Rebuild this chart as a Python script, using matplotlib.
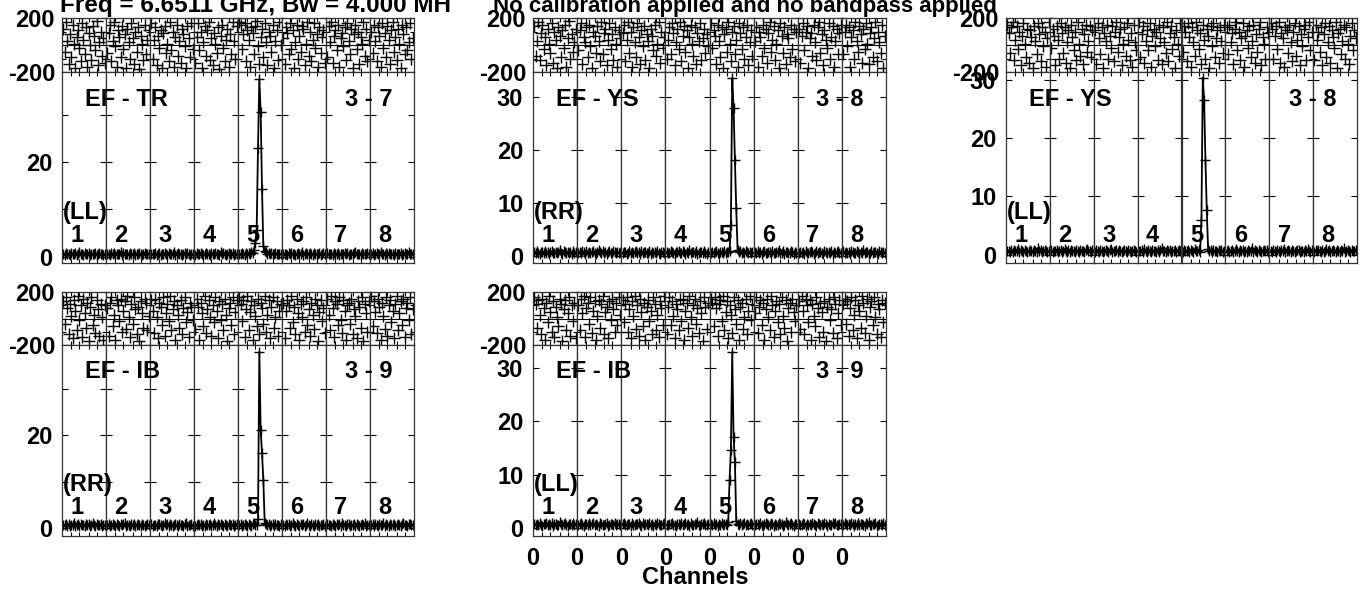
import matplotlib
matplotlib.use("Agg")
import matplotlib.pyplot as plt
import numpy as np
from matplotlib.ticker import FixedLocator, MultipleLocator, FuncFormatter

plt.rcParams['font.family'] = ['Liberation Sans', 'DejaVu Sans']
plt.rcParams['font.weight'] = 'bold'
plt.rcParams['font.size'] = 17
plt.rcParams['axes.unicode_minus'] = False

W, H = 1366, 592
FS = 17

title_left = "Freq = 6.6511 GHz, Bw = 4.000 MH"
title_right = "No calibration applied and no bandpass applied"
baselines = ["EF - TR", "EF - YS", "EF - YS", "EF - IB", "EF - IB"]
antennas = ["3 - 7", "3 - 8", "3 - 8", "3 - 9", "3 - 9"]
pols = ["(LL)", "(RR)", "(LL)", "(RR)", "(LL)"]
if_labels = ["1", "2", "3", "4", "5", "6", "7", "8"]
amp_max = [39.0, 34.7, 31.3, 39.5, 34.3]
amp_min = [-1.3, -1.3, -1.4, -1.7, -1.5]
amp_label_step = [20, 10, 10, 20, 10]

# phase in units of 10 degrees, one row per IF
phase_tr = [
    [12, -5, 17, 3, -14, 8, -9, 15, 1, -17, 6, 11, -2, -12, 16, 4, -7, 13, -16, 9, 0, -11, 14, 7, -4, 18, -15, 2, 10, -8, 5, -13],
    [-6, 9, 15, -12, 3, 17, -1, -16, 11, 6, -9, 14, -3, 8, -17, 12, 2, -10, 16, 5, -14, 10, -5, 13, -18, 7, 1, -11, 15, -7, 4, 11],
    [16, -10, 4, 13, -15, 7, -2, 11, -17, 9, 14, -6, 1, -12, 17, -4, 10, -16, 6, 15, -8, 3, -13, 12, 8, -1, -17, 14, 5, -9, 16, -3],
    [-13, 6, 16, -4, 10, -17, 2, 14, -8, 11, 17, -11, 5, -15, 9, 1, -6, 13, -18, 7, 15, -2, -12, 4, 12, -16, 8, -7, 17, 3, -10, 14],
    [17, 15, -3, 8, 16, -12, 11, 4, -16, 13, 9, -7, 14, 18, -1, -14, 6, 12, -9, 16, 2, -15, 10, 7, -5, 15, -17, 3, 11, -11, 17, 0],
    [5, -14, 13, 9, -7, 16, -3, 11, -17, 2, 15, -10, 7, -5, 14, 12, -15, 1, 17, -8, 10, -12, 4, 16, -2, 8, -16, 13, -6, 6, 11, -13],
    [-9, 14, 2, 17, -13, 7, 11, -4, 15, -16, 5, 9, -1, 13, -11, 16, 3, -7, 12, -17, 8, 15, -3, 10, -14, 6, 1, 17, -8, 12, -12, 4],
    [10, -6, 15, 3, -12, 13, 7, -16, 16, -2, 9, -9, 14, 4, -14, 11, 17, -5, 6, -11, 12, 1, -17, 15, 8, -7, 13, -4, 2, 16, -10, 5],
]
phase_ys_rr = [
    [14, -8, 3, 17, -11, 9, 15, -3, 6, -15, 12, 1, -6, 16, -13, 10, 4, -17, 13, 7, -9, 11, -2, 15, -16, 5, 18, -10, 8, -5, 2, 12],
    [-4, 11, 16, -14, 6, 2, 13, -9, 15, -1, -17, 10, 7, -6, 14, 3, -12, 17, -7, 9, 12, -15, 4, 16, -3, 8, -11, 13, 1, -16, 11, 5],
    [9, 15, -12, 4, 17, -6, 10, -16, 13, 2, -9, 16, 6, -14, 11, -1, 14, -11, 8, 3, -17, 12, 7, -4, 15, -8, 1, 17, -13, 10, -2, 6],
    [-10, 4, 13, -7, 16, 9, -15, 2, 12, -3, 17, -12, 7, 14, -5, 11, -17, 6, 15, 1, -8, 13, -14, 9, 3, 16, -11, 5, 12, -6, 8, -1],
    [16, -2, 11, 7, -14, 15, 3, -9, 13, -17, 8, 12, -5, 17, 1, -12, 10, 14, -7, 4, -16, 16, 9, -3, 13, -10, 6, 15, -15, 2, 11, -8],
    [3, 13, -16, 10, 6, -8, 15, -2, 12, -13, 9, 17, -5, 4, 14, -11, 1, 11, -17, 16, 7, -6, 13, -14, 8, 5, -9, 15, -3, 12, -12, 10],
    [12, -13, 7, 16, -4, 10, 14, -17, 5, 9, -8, 15, 2, -11, 13, 17, -6, 8, -15, 11, 4, -2, 16, -10, 6, 14, -16, 3, 12, -7, 9, 15],
    [-7, 10, 15, -1, 13, -16, 6, 11, -10, 17, 3, -5, 14, 8, -13, 12, -3, 16, 1, -14, 9, 13, -9, 5, 17, -12, 10, 2, -6, 15, -17, 7],
]
phase_ys_ll = [
    [15, 9, -6, 13, 17, -11, 4, 14, -3, 10, -15, 7, 16, 1, -9, 12, -13, 11, 6, -17, 14, 3, -7, 16, 8, -12, 13, -1, 10, -16, 5, 17],
    [-2, 12, 7, -15, 14, 4, -10, 16, 9, -6, 13, -13, 2, 11, -17, 15, 6, -4, 10, -11, 17, 1, -8, 12, -14, 8, 15, -5, 3, 14, -9, 11],
    [11, -14, 16, 5, -7, 13, -17, 9, 3, 15, -10, 7, -2, 14, -12, 10, 17, -5, 6, 12, -15, 1, 13, -8, 16, 4, -11, 9, -16, 15, 2, -4],
    [17, -9, 8, 14, -13, 3, 11, -4, 16, -16, 7, 12, -1, 10, -11, 15, 5, -14, 13, 2, -6, 17, -12, 9, 14, -3, 6, -17, 11, 1, -8, 16],
    [-5, 14, 10, -12, 16, 6, -16, 13, 2, -8, 17, 11, -3, 9, -14, 15, 4, -10, 12, 7, -17, 14, -1, 16, -9, 5, 11, -13, 13, 3, -6, 15],
    [13, -7, 15, 2, 9, -14, 12, 17, -4, 10, -11, 5, 16, -16, 7, 11, -2, 14, -9, 3, 15, -13, 8, -5, 12, 17, -15, 6, 1, -10, 13, 9],
    [16, 12, -10, 7, 14, -3, 17, -13, 9, 5, -16, 13, 11, -6, 15, 2, -12, 10, 16, -8, 4, 14, -15, 8, -1, 12, 15, -11, 6, 17, -4, 10],
    [-11, 15, 4, 10, -5, 13, -15, 8, 16, -9, 2, 14, -13, 11, 6, -2, 17, -17, 9, 12, -7, 3, 15, -10, 13, 1, -14, 7, 16, -4, 11, 5],
]
phase_ib_rr = [
    [13, -4, 16, 8, -12, 11, 2, -15, 14, 6, -9, 17, -1, 10, -14, 15, 4, -7, 12, -17, 9, 16, -5, 3, -11, 14, 7, -13, 11, 1, -16, 10],
    [8, -13, 12, 16, -6, 3, -16, 14, 10, -2, 15, -10, 6, 13, -8, 17, 1, -14, 11, -4, 16, 7, -12, 9, -17, 13, 4, -7, 15, 12, -9, 2],
    [14, 6, -11, 15, 1, -15, 12, 9, -5, 16, -13, 4, 11, -2, 17, -9, 7, 13, -16, 10, 3, -7, 14, -12, 8, 16, -3, 5, -14, 12, 9, -1],
    [-8, 15, 9, -16, 12, 4, -6, 17, -11, 7, 14, 1, -13, 10, -3, 16, 6, -15, 13, -1, 11, -9, 15, 3, -17, 8, 12, -5, 16, -12, 5, 14],
    [16, 11, -2, 14, -14, 7, 17, -9, 5, 13, -16, 10, 2, -6, 15, -12, 12, 8, -4, 17, -10, 3, 14, -15, 9, 16, -7, 1, 13, -13, 6, 11],
    [12, -15, 6, 14, 10, -7, 17, -3, 9, -12, 15, 4, -16, 11, 1, 13, -10, 16, -5, 7, -13, 12, 3, -8, 15, 10, -17, 5, 14, -2, 8, -11],
    [15, 3, -9, 17, 8, -14, 13, 11, -5, 16, -1, -11, 14, 6, -16, 10, 12, -4, 15, -12, 7, 2, -15, 13, 9, -7, 16, -17, 11, 4, -10, 13],
    [17, -6, 13, 5, -11, 15, 9, -16, 12, 2, -8, 16, -13, 10, 14, -3, 6, -15, 11, 17, -9, 4, 13, -5, 15, -14, 8, 12, -1, 16, -12, 7],
]
phase_ib_ll = [
    [16, 11, -7, 14, 3, -12, 15, 8, -16, 12, -3, 17, 5, -10, 13, -14, 9, 1, -6, 15, 11, -17, 7, 14, -9, 4, 16, -13, 10, -2, 12, -15],
    [10, -9, 15, 4, 17, -14, 8, 12, -4, 16, -11, 6, 13, -16, 2, 14, -7, 11, 17, -12, 5, 9, -15, 13, -1, 15, 7, -10, 12, -5, 16, 3],
    [14, -3, 11, 16, -10, 7, -15, 13, 2, 17, -8, 10, -13, 15, 5, -6, 12, -16, 9, 14, -2, 6, -12, 16, 11, -9, 3, -14, 13, 8, -5, 17],
    [-12, 9, 16, -5, 13, 2, -15, 11, 7, -9, 15, -2, 14, -16, 6, 12, -7, 17, 1, -13, 10, 15, -4, 8, -11, 13, 4, -17, 16, 9, -8, 12],
    [15, 12, -6, 16, 8, -13, 11, 14, -2, 17, -9, 5, 13, -15, 10, 3, -11, 16, 7, -4, 14, -16, 9, 12, -8, 1, 15, -12, 6, 17, -1, 11],
    [4, 16, -11, 9, 14, -5, 12, -16, 7, 15, 1, -9, 17, 10, -14, 6, 13, -3, 11, -12, 16, 2, -7, 14, -17, 8, 12, -10, 15, 5, -2, 10],
    [13, -8, 17, 6, -12, 15, 10, -3, 14, -16, 11, 2, -6, 16, 8, -14, 12, 5, -10, 13, -17, 9, 15, -1, 7, -11, 16, 11, -15, 4, 14, -5],
    [11, 15, -4, 13, -13, 8, 16, -9, 3, 14, -15, 10, 6, -7, 17, 12, -11, 2, 15, -16, 9, 13, -5, 16, 1, -12, 11, 7, -14, 14, -3, 12],
]

# amplitude in units of 0.1, one row per IF
amp_tr = [
    [6,4,8,5,7,3,9,6,5,8,4,7,10,5,6,3,8,7,5,9,4,6,7,5,8,3,6,9,5,7,4,6],
    [5,7,3,8,6,9,4,7,5,6,11,4,8,5,7,6,3,8,6,5,9,4,7,6,8,5,4,7,9,5,6,7],
    [7,5,6,9,4,7,8,3,6,5,8,7,4,9,6,5,7,10,4,6,8,5,7,3,6,9,5,8,6,4,7,5],
    [4,8,6,5,9,7,3,6,8,5,7,4,9,6,5,8,6,7,4,11,5,8,6,3,7,9,5,6,8,4,7,6],
    [6,5,8,7,4,9,6,8,7,10,9,14,30,57,230,375,305,143,22,12,10,7,8,6,9,5,7,8,6,5,7,6],
    [5,7,6,4,8,6,9,5,7,3,6,8,5,7,10,4,6,8,5,7,9,6,4,8,5,6,7,9,4,6,8,5],
    [8,5,7,6,3,9,5,7,8,4,6,7,5,9,6,8,4,7,6,5,8,10,5,7,6,4,8,6,7,5,9,6],
    [6,9,4,7,8,5,6,10,5,7,4,8,6,9,5,7,6,3,8,7,5,6,9,4,7,8,6,5,11,6,7,5],
]
amp_ys_rr = [
    [7,5,9,6,4,8,7,5,10,6,8,4,7,9,5,6,8,5,7,11,6,4,9,7,5,8,6,7,4,9,6,8],
    [6,8,5,9,7,4,10,6,8,5,7,9,6,4,8,12,7,5,9,6,8,4,7,10,5,6,9,7,5,8,6,7],
    [5,7,8,4,6,9,5,7,6,8,10,5,7,4,9,6,8,7,5,6,9,4,8,6,7,5,10,6,4,8,7,5],
    [8,6,5,9,7,6,4,8,7,10,5,6,9,8,4,7,5,11,6,8,7,5,9,4,6,8,7,5,9,6,4,7],
    [6,8,5,7,9,6,4,8,7,5,10,6,8,7,9,58,336,279,181,90,12,7,9,5,8,6,10,7,5,8,6,7],
    [7,5,9,6,8,4,7,10,6,5,8,7,4,9,6,5,8,7,11,5,6,9,4,7,8,6,5,9,7,4,8,6],
    [5,8,6,7,4,9,6,5,8,10,7,4,6,9,5,8,7,6,4,9,8,5,7,6,10,4,8,5,7,9,6,5],
    [9,6,7,5,8,4,10,7,6,5,9,8,4,7,6,11,5,8,7,4,6,9,5,8,7,6,4,10,7,5,8,6],
]
amp_ys_ll = [
    [6,7,5,9,4,8,6,7,10,5,8,6,4,9,7,5,6,8,7,4,9,6,5,11,7,8,5,6,9,7,4,6],
    [8,5,7,6,9,4,7,8,5,6,10,7,5,8,4,9,6,7,5,8,6,4,9,7,6,5,8,10,6,7,5,8],
    [5,9,6,4,8,7,5,6,9,7,4,8,10,5,6,7,9,4,8,6,5,7,8,6,4,9,7,5,6,8,7,5],
    [7,6,8,5,10,6,4,9,7,5,8,6,7,4,9,5,8,11,6,7,4,8,6,9,5,7,6,8,4,7,9,6],
    [5,8,6,7,9,4,8,6,5,10,7,6,9,5,60,303,265,162,77,10,7,9,5,8,6,7,4,9,6,8,5,7],
    [6,9,5,7,8,4,6,10,7,5,8,6,9,4,7,5,8,6,7,11,5,9,6,4,8,7,5,6,9,7,8,5],
    [7,5,8,6,4,9,7,5,8,6,10,5,7,9,6,4,8,7,5,6,9,8,4,7,6,5,9,7,10,6,5,8],
    [5,8,7,9,6,5,8,4,7,10,6,9,5,7,8,6,4,9,7,5,8,6,11,5,7,9,6,4,8,7,6,9],
]
amp_ib_rr = [
    [7,6,9,5,8,4,7,6,10,5,7,8,4,9,6,7,5,8,6,9,4,7,11,6,5,8,7,6,9,5,7,6],
    [6,8,5,7,9,6,4,8,7,5,9,6,8,10,5,7,6,4,9,7,8,5,6,9,7,4,8,6,5,7,9,6],
    [8,5,7,6,4,9,8,6,5,7,10,6,8,5,9,7,4,6,8,7,5,9,6,7,4,8,10,5,7,6,8,5],
    [5,7,9,6,8,5,7,4,9,6,7,8,5,6,10,7,4,8,6,9,7,5,8,6,4,9,7,6,8,5,7,9],
    [6,9,5,7,8,6,4,9,7,5,8,10,6,7,20,380,212,162,104,12,8,6,9,5,7,8,4,9,6,7,5,8],
    [7,5,8,6,9,4,7,10,6,5,8,7,4,9,6,8,5,7,11,6,4,8,7,5,9,6,8,5,7,6,9,4],
    [9,6,7,5,8,6,4,9,7,8,5,10,6,7,4,8,9,5,6,7,8,4,9,6,5,7,8,6,10,5,7,6],
    [6,8,5,9,7,4,8,6,7,10,5,8,6,4,9,7,6,8,5,7,9,6,4,8,11,6,7,5,8,9,6,7],
]
amp_ib_ll = [
    [8,6,7,5,9,6,4,8,7,10,5,7,6,9,4,8,7,5,6,11,8,5,7,9,6,4,8,7,5,9,6,7],
    [5,7,9,6,4,8,7,5,9,6,8,10,5,7,6,4,9,8,6,5,7,9,4,6,8,7,5,10,6,8,7,5],
    [7,9,5,6,8,7,4,9,6,5,8,7,10,6,4,9,5,7,8,6,9,5,7,4,8,6,9,7,5,6,8,10],
    [6,5,8,7,9,5,6,4,8,7,6,9,5,8,10,6,7,4,9,6,5,8,7,11,6,4,8,7,9,5,6,8],
    [7,5,9,6,8,4,7,6,10,5,8,7,6,12,90,146,330,171,124,14,8,6,9,5,7,10,6,8,5,7,9,6],
    [6,8,7,5,9,6,4,8,10,7,5,6,9,7,4,8,6,5,9,7,8,4,6,11,7,5,8,9,6,4,7,8],
    [8,6,5,9,7,4,8,6,7,5,10,8,6,4,9,7,5,8,6,9,7,4,8,5,6,10,7,9,5,6,8,7],
    [5,9,7,6,8,5,10,7,4,8,6,9,5,7,8,6,4,9,7,11,6,5,8,7,9,4,6,8,7,5,9,6],
]

phases = [phase_tr, phase_ys_rr, phase_ys_ll, phase_ib_rr, phase_ib_ll]
amps = [amp_tr, amp_ys_rr, amp_ys_ll, amp_ib_rr, amp_ib_ll]

# panel boxes in pixels: left, right, top, phase/amp divider, bottom
boxes = [(62, 414, 18, 72, 263), (533, 886, 18, 72, 263), (1006, 1357, 18, 72, 263),
         (62, 414, 292, 345, 536), (533, 886, 292, 345, 536)]

fig = plt.figure(figsize=(W / 100, H / 100), dpi=100)

def style(ax, show_x):
    ax.tick_params(which='both', direction='in', top=True, bottom=True, left=True, right=True,
                   width=0.8, color='black', labelsize=FS, pad=5)
    ax.tick_params(which='major', length=4)
    ax.tick_params(which='minor', length=3)
    for s in ax.spines.values():
        s.set_linewidth(0.9)
        s.set_color('#333333')
    ax.set_xlim(0, 33)
    ax.xaxis.set_major_locator(FixedLocator([0]))
    ax.xaxis.set_minor_locator(FixedLocator([7, 13, 20, 26]))
    ax.xaxis.set_major_formatter(FuncFormatter(lambda v, p: "0"))
    ax.tick_params(axis='x', which='major', length=0, labelbottom=show_x, pad=8)

for p in range(5):
    left, right, top, div, bot = boxes[p]
    w = (right - left) / 8
    step = amp_label_step[p]
    for i in range(8):
        x0 = left + i * w
        axp = fig.add_axes([x0 / W, 1 - div / H, w / W, (div - top) / H])
        axa = fig.add_axes([x0 / W, 1 - bot / H, w / W, (bot - div) / H])

        ph = np.array(phases[p][i]) * 10
        ch = np.arange(1, len(ph) + 1)
        axp.plot(ch, ph, ls='none', marker='+', ms=9, mew=1.0, color='black')
        axp.axhline(0, color='black', lw=0.8)
        axp.set_ylim(-200, 200)
        style(axp, False)
        axp.yaxis.set_major_locator(FixedLocator([-200, 200]))
        axp.yaxis.set_minor_locator(FixedLocator([-100, 100]))
        axp.tick_params(axis='y', labelleft=(i == 0))

        am = np.array(amps[p][i]) / 10
        ch = np.arange(1, len(am) + 1)
        axa.plot(ch, am, color='black', lw=1.3, marker='+', ms=7, mew=1.0)
        axa.set_ylim(amp_min[p], amp_max[p])
        style(axa, p == 4)
        axa.yaxis.set_major_locator(MultipleLocator(10))
        axa.yaxis.set_major_formatter(FuncFormatter(
            lambda v, pos, s=step: "%d" % round(v) if round(v) % s == 0 else ""))
        axa.tick_params(axis='y', labelleft=(i == 0), pad=7)

        fig.text((x0 + 15) / W, 1 - (bot - 28) / H, if_labels[i], ha='center', va='center',
                 fontsize=FS, fontweight='bold')

    fig.text((left + 23) / W, 1 - (div + 27) / H, baselines[p], ha='left', va='center',
             fontsize=FS, fontweight='bold')
    fig.text((left + 283) / W, 1 - (div + 27) / H, antennas[p], ha='left', va='center',
             fontsize=FS, fontweight='bold')
    fig.text((left + 1) / W, 1 - (bot - 51) / H, pols[p], ha='left', va='center',
             fontsize=FS, fontweight='bold')

fig.text(60 / W, 1 - 12 / H, title_left, ha='left', va='baseline', fontsize=17.5, fontweight='bold')
fig.text(493 / W, 1 - 12 / H, title_right, ha='left', va='baseline', fontsize=16, fontweight='bold')
fig.text(695 / W, 1 - 578 / H, "Channels", ha='center', va='center', fontsize=FS, fontweight='bold')

fig.savefig("out.png", dpi=100)
